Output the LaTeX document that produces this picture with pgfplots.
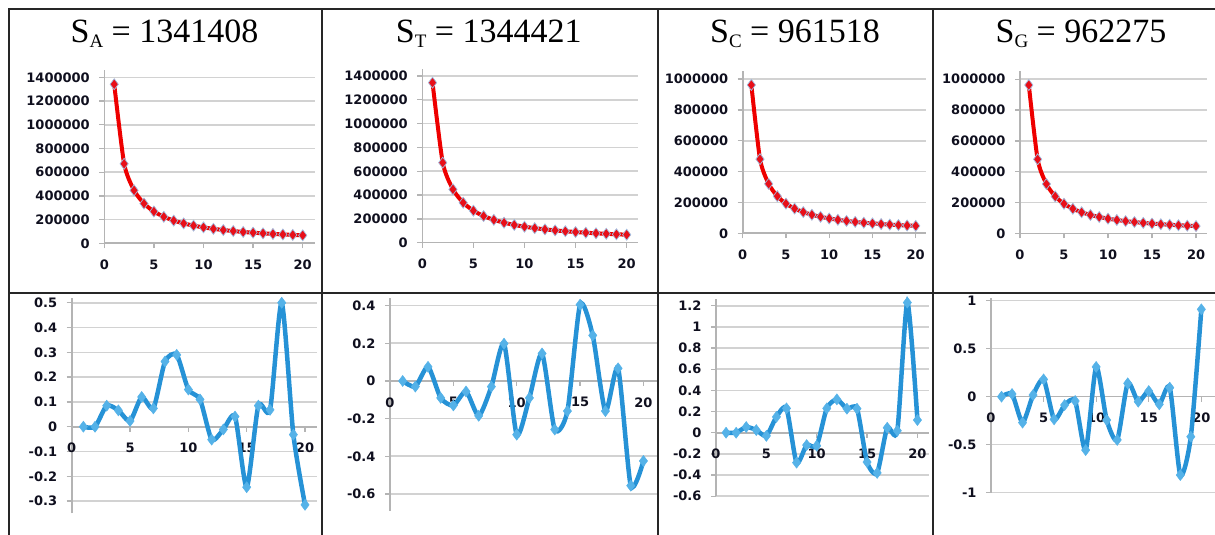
\documentclass[border=0pt]{standalone}
\usepackage{fontspec}
\setmainfont{Liberation Serif}
\newfontfamily\tickfont{DejaVu Sans}
\usepackage{pgfplots}
\pgfplotsset{compat=1.18}
\definecolor{gridc}{RGB}{210,210,210}
\definecolor{axc}{RGB}{180,180,180}
\definecolor{redl}{RGB}{238,0,0}
\definecolor{redm}{RGB}{232,15,25}
\definecolor{halo}{RGB}{160,190,225}
\definecolor{bluel}{RGB}{38,146,214}
\definecolor{bluem}{RGB}{85,178,232}
\definecolor{tickc}{RGB}{15,15,30}
\pgfplotsset{
 panel/.style={
  scale only axis, anchor=south west,
  axis x line=middle, axis y line=left,
  axis line style={-, draw=axc, line width=1.6pt},
  hide obscured x ticks=false, hide obscured y ticks=false,
  ymajorgrids, grid style={gridc, line width=1.6pt},
  tick style={axc, line width=1.3pt},
  major tick length=5pt, tick align=outside,
  xtick={0,5,10,15,20}, xmin=0,
  scaled y ticks=false,
  ticklabel style={font=\tickfont\bfseries\fontsize{13}{13}\selectfont, text=tickc},
  xticklabel style={yshift=-8pt},
  yticklabel style={xshift=-6pt},
  yticklabel style={/pgf/number format/.cd, fixed, precision=2, set thousands separator={}, assume math mode=true},
  xticklabel style={/pgf/number format/assume math mode=true},
  clip=false,
 },
 redplot/.style={redl, line width=4pt, smooth, tension=0.4, mark=diamond*, mark size=5.5pt, mark options={fill=redm, draw=halo, line width=0.7pt, solid}},
 blueplot/.style={bluel, line width=4.5pt, smooth, tension=0.4, mark=diamond*, mark size=5.5pt, mark options={fill=bluem, draw=bluem, line width=0.5pt, solid}},
}
\begin{document}
\begin{tikzpicture}
\useasboundingbox (0pt,0pt) rectangle (1215pt,535pt);

% ---------- titles ----------
\node[anchor=base] at (164.5pt,492.3pt) {\fontsize{34}{34}\selectfont S\raisebox{-5pt}{\fontsize{19}{19}\selectfont A} = 1341408};
\node[anchor=base] at (488.7pt,492.3pt) {\fontsize{34}{34}\selectfont S\raisebox{-5pt}{\fontsize{19}{19}\selectfont T} = 1344421};
\node[anchor=base] at (795pt,492.3pt) {\fontsize{34}{34}\selectfont S\raisebox{-5pt}{\fontsize{19}{19}\selectfont C} = 961518};
\node[anchor=base] at (1081pt,492.3pt) {\fontsize{34}{34}\selectfont S\raisebox{-5pt}{\fontsize{19}{19}\selectfont G} = 962275};

% ---------- top row ----------
\begin{axis}[panel, at={(104.3pt,291.7pt)}, width=210.3pt, height=173.1pt,
  xmax=21.2, ymin=0, ymax=1460000, ytick={0,200000,400000,600000,800000,1000000,1200000,1400000}]
\addplot[redplot] coordinates {(1,1341408)(2,670704)(3,447136)(4,335352)(5,268282)(6,223568)(7,191630)(8,167676)(9,149045)(10,134141)(11,121946)(12,111784)(13,103185)(14,95815)(15,89427)(16,83838)(17,78906)(18,74523)(19,70600)(20,67070)};
\end{axis}

\begin{axis}[panel, at={(422.3pt,292.3pt)}, width=215.6pt, height=173.8pt,
  xmax=21.1, ymin=0, ymax=1460000, ytick={0,200000,400000,600000,800000,1000000,1200000,1400000}]
\addplot[redplot] coordinates {(1,1344421)(2,672211)(3,448140)(4,336105)(5,268884)(6,224070)(7,192060)(8,168053)(9,149380)(10,134442)(11,122220)(12,112035)(13,103417)(14,96030)(15,89628)(16,84026)(17,79084)(18,74690)(19,70759)(20,67221)};
\end{axis}

\begin{axis}[panel, at={(742.7pt,301.7pt)}, width=183.4pt, height=162pt,
  xmax=21.2, ymin=0, ymax=1050000, ytick={0,200000,400000,600000,800000,1000000}]
\addplot[redplot] coordinates {(1,961518)(2,480759)(3,320506)(4,240380)(5,192304)(6,160253)(7,137360)(8,120190)(9,106835)(10,96152)(11,87411)(12,80127)(13,73963)(14,68680)(15,64101)(16,60095)(17,56560)(18,53418)(19,50606)(20,48076)};
\end{axis}

\begin{axis}[panel, at={(1020pt,301.5pt)}, width=186.6pt, height=162pt,
  xmax=21.2, ymin=0, ymax=1050000, ytick={0,200000,400000,600000,800000,1000000}]
\addplot[redplot] coordinates {(1,962275)(2,481138)(3,320758)(4,240569)(5,192455)(6,160379)(7,137468)(8,120284)(9,106919)(10,96228)(11,87480)(12,80190)(13,74021)(14,68734)(15,64152)(16,60142)(17,56604)(18,53460)(19,50646)(20,48114)};
\end{axis}

% ---------- bottom row ----------
\begin{axis}[panel, at={(71.7pt,21.5pt)}, width=245pt, height=215.7pt,
  xmax=21, ymin=-0.35, ymax=0.52, ytick={-0.3,-0.2,-0.1,0,0.1,0.2,0.3,0.4,0.5}]
\addplot[blueplot] coordinates {(1,0)(2,0)(3,0.085)(4,0.066)(5,0.023)(6,0.12)(7,0.074)(8,0.263)(9,0.29)(10,0.15)(11,0.11)(12,-0.052)(13,-0.011)(14,0.041)(15,-0.244)(16,0.085)(17,0.068)(18,0.5)(19,-0.032)(20,-0.315)};
\end{axis}

\begin{axis}[panel, at={(390pt,24.1pt)}, width=268pt, height=212.8pt,
  xmax=21.15, ymin=-0.69, ymax=0.44, ytick={-0.6,-0.4,-0.2,0,0.2,0.4}]
\addplot[blueplot] coordinates {(1,0)(2,-0.03)(3,0.075)(4,-0.09)(5,-0.13)(6,-0.056)(7,-0.185)(8,-0.03)(9,0.198)(10,-0.285)(11,-0.09)(12,0.146)(13,-0.258)(14,-0.16)(15,0.405)(16,0.242)(17,-0.16)(18,0.067)(19,-0.556)(20,-0.425)};
\end{axis}

\begin{axis}[panel, at={(716pt,38.8pt)}, width=212.5pt, height=196.8pt,
  xmax=21.1, ymin=-0.6, ymax=1.26, ytick={-0.6,-0.4,-0.2,0,0.2,0.4,0.6,0.8,1,1.2}]
\addplot[blueplot] coordinates {(1,0)(2,0)(3,0.054)(4,0.025)(5,-0.03)(6,0.15)(7,0.23)(8,-0.283)(9,-0.117)(10,-0.123)(11,0.23)(12,0.315)(13,0.227)(14,0.227)(15,-0.277)(16,-0.38)(17,0.047)(18,0.019)(19,1.23)(20,0.12)};
\end{axis}

\begin{axis}[panel, at={(991pt,42.3pt)}, width=224pt, height=194.9pt,
  xmax=21.3, ymin=-1, ymax=1.03, ytick={-1,-0.5,0,0.5,1}]
\addplot[blueplot] coordinates {(1,0)(2,0.028)(3,-0.27)(4,0.017)(5,0.18)(6,-0.236)(7,-0.087)(8,-0.045)(9,-0.556)(10,0.31)(11,-0.243)(12,-0.45)(13,0.139)(14,-0.052)(15,0.059)(16,-0.08)(17,0.094)(18,-0.816)(19,-0.417)(20,0.91)};
\end{axis}

% ---------- table borders ----------
\draw[line width=2pt, black!85] (8pt,525.7pt) -- (1215pt,525.7pt);
\draw[line width=2pt, black!85] (8.5pt,0pt) -- (8.5pt,526.7pt);
\draw[line width=2pt, black!85] (8.5pt,241.5pt) -- (1215pt,241.5pt);
\draw[line width=2pt, black!85] (321.7pt,0pt) -- (321.7pt,526.7pt);
\draw[line width=2pt, black!85] (657.5pt,0pt) -- (657.5pt,526.7pt);
\draw[line width=2pt, black!85] (933pt,0pt) -- (933pt,526.7pt);
\end{tikzpicture}
\end{document}
